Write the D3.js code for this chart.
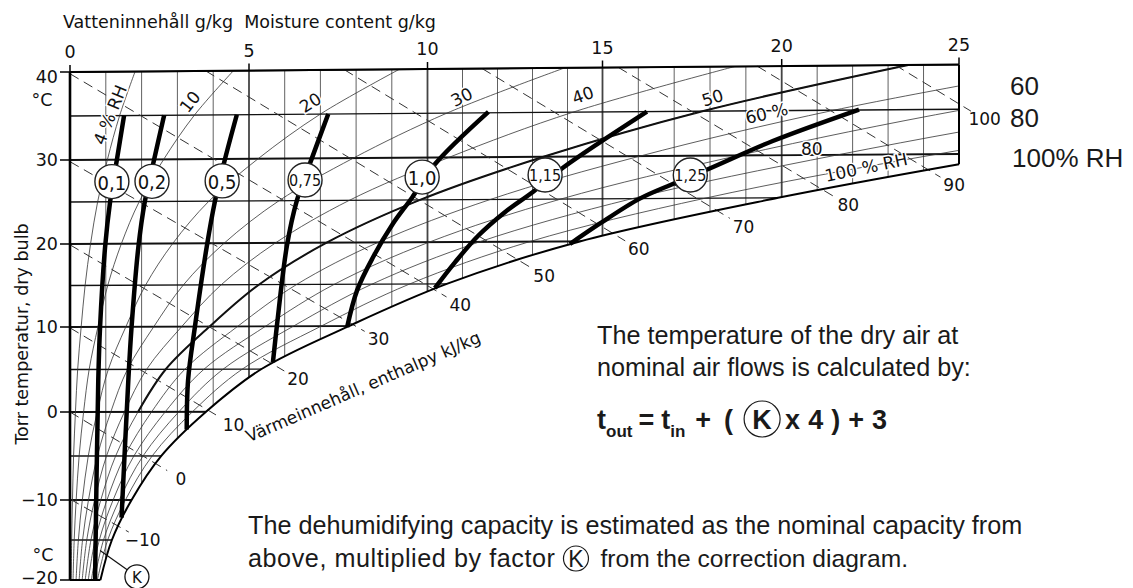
<!DOCTYPE html>
<html><head><meta charset="utf-8">
<script src="https://cdn.jsdelivr.net/npm/d3@7/dist/d3.min.js"></script>
<style>
body{margin:0;background:#fff;}
svg{display:block;}
.ch{font-family:"DejaVu Sans",sans-serif;fill:#111;}
.ov{font-family:"Liberation Sans",Arial,sans-serif;fill:#1a1a1a;}
</style></head><body>
<svg id="c" width="1133" height="588"></svg>
<script>
// ---------- data ----------
const moistureTicks = [0, 5, 10, 15, 20, 25];          // g/kg
const tempTicks = [-20, -10, 0, 10, 20, 30, 40];       // °C
const satTemps =    [-20, -15, -10, -5, 0, 5, 10, 15, 20, 25, 28.8];
const satMoisture = [0.85, 1.17, 1.72, 2.55, 3.8, 5.35, 7.8, 10.55, 14.35, 19.9, 25];

const rhTemps = [-20, -15, -10, -5, 0, 5, 10, 15, 20, 25, 30, 35, 40];
const rhValues = [4, 10, 20, 30, 40, 50, 60, 70, 80, 90];
const rhMoisture = [
  [0.034,0.047,0.069,0.10,0.152,0.214,0.312,0.422,0.574,0.772,1.044,1.386,1.819],
  [0.085,0.117,0.172,0.255,0.38,0.535,0.78,1.055,1.435,1.934,2.617,3.477,4.567],
  [0.17,0.234,0.344,0.51,0.76,1.07,1.56,2.11,2.87,3.88,5.255,6.998,9.213],
  [0.255,0.351,0.516,0.765,1.14,1.605,2.34,3.165,4.305,5.839,7.923,10.552,13.922],
  [0.34,0.468,0.688,1.02,1.52,2.14,3.12,4.22,5.74,7.809,10.608,14.157,18.7],
  [0.425,0.585,0.86,1.275,1.9,2.675,3.9,5.275,7.175,9.791,13.314,17.788,23.57],
  [0.51,0.702,1.032,1.53,2.28,3.21,4.68,6.33,8.61,11.791,16.042,21.477,28.49],
  [0.595,0.819,1.204,1.785,2.66,3.745,5.46,7.385,10.045,13.804,18.792,25.185,33.48],
  [0.68,0.936,1.376,2.04,3.04,4.28,6.24,8.44,11.48,15.824,21.585,28.958,38.53],
  [0.765,1.053,1.548,2.295,3.42,4.815,7.02,9.495,12.915,17.856,24.382,32.743,43.7]
];
const rhLabelText  = ["4 % RH","10","20","30","40","50","60 %","80","100 % RH"];
const rhLabelX     = [1.12, 3.35, 6.72, 10.98, 14.44, 18.07, 19.58, 20.85, 22.38];
const rhLabelT     = [35.1, 36.5, 36.3, 36.8, 36.9, 36.5, 34.7, 30.7, 28.5];
const rhLabelAngle = [-68, -52, -33, -27, -20, -17, -13, 0, -12];

const enthalpyValues = [-10, 0, 10, 20, 30, 40, 50, 60, 70, 80, 90, 100];  // kJ/kg
const enthStartX = [0, 0, 0, 0, 0, 0, 3.79, 7.67, 11.56, 15.44, 19.32, 23.2];
const enthStartT = [-9.9, 0, 9.9, 19.9, 29.8, 39.8, 40, 40, 40, 40, 40, 40];
const enthEndX = [1.30, 2.38, 3.85, 5.65, 7.9, 10.2, 12.6, 15.3, 18.22, 21.15, 24.14, 25];
const enthEndT = [-13.15, -5.84, 0.2, 5.6, 10.2, 14.3, 17.8, 20.9, 23.48, 25.93, 28.16, 35.6];

const kLabels = ["0,1", "0,2", "0,5", "0,75", "1,0", "1,15", "1,25"];
const kLineX = [
  [0.70,0.79,0.84,0.98,1.12,1.31,1.51],
  [1.44,1.63,1.72,1.91,2.09,2.35,2.63],
  [3.26,3.30,3.49,3.82,4.05,4.33,4.66],
  [5.67,5.78,6.06,6.34,6.76,7.22],
  [7.75,8.03,8.47,9.03,9.57,10.21,11.74],
  [10.21,10.79,11.44,12.21,13.01,13.87,16.24],
  [14.07,14.93,16.04,16.96,17.99,19.75,22.18]
];
const kLineT = [
  [-20,3.8,10,19.6,25,30,35],
  [-12.2,3.8,10,19.6,25,30,35],
  [-2,3.8,10,19.6,25,30,35],
  [5.8,10,19.6,25,30,35],
  [9.9,14.3,18.2,22.2,25.3,29.2,35.1],
  [14.5,17.6,20.7,23.5,25.86,28.7,35.0],
  [19.7,22.1,25.0,26.7,28.5,31.6,35.05]
];
const kCircleX = [1.17, 2.29, 4.25, 6.57, 9.85, 13.36, 17.45];
const kCircleT = [27.4, 27.4, 27.4, 27.45, 27.7, 27.86, 27.75];

// ---------- scales ----------
const svg = d3.select("#c");
const xS = d3.scaleLinear().domain(moistureTicks).range([70, 249, 427.5, 602.5, 781.7, 959]);
const yS = d3.scaleLinear().domain(tempTicks).range([580, 500, 412, 327, 244, 160, 72]);
const shear = t => Math.max(0, 0.06 + 0.006 * t);
const P = (x, t) => [xS(x), yS(t) - shear(t) * x];

const straight = d3.line().x(d => P(d[0], d[1])[0]).y(d => P(d[0], d[1])[1]);
const smooth = d3.line().x(d => P(d[0], d[1])[0]).y(d => P(d[0], d[1])[1])
  .curve(d3.curveCatmullRom.alpha(0.5));

const satPts = satTemps.map((t, i) => [satMoisture[i], t]);
const revD = smooth(satPts.slice().reverse());
const clipD = "M" + P(0, -20) + "L" + P(0, 40) + "L" + P(25, 40) + revD.replace(/^M/, "L") + "Z";
svg.append("defs").append("clipPath").attr("id", "area").append("path").attr("d", clipD);

const grid = svg.append("g").attr("clip-path", "url(#area)");

// vertical grid (moisture)
d3.range(0, 26).forEach(m => {
  grid.append("path").attr("d", straight([[m, 40], [m, -20]]))
    .attr("stroke", "#444").attr("stroke-width", m % 5 === 0 ? 1.8 : 0.85).attr("fill", "none");
});
// isotherms
d3.range(-20, 41, 5).forEach(t => {
  grid.append("path").attr("d", straight([[0, t], [25, t]]))
    .attr("stroke", "#111").attr("stroke-width", t % 10 === 0 ? 1.9 : 1.3).attr("fill", "none");
});
// RH curves
rhValues.forEach((rh, i) => {
  const pts = rhTemps.map((t, j) => [rhMoisture[i][j], t]);
  grid.append("path").attr("d", smooth(pts))
    .attr("stroke", "#333").attr("stroke-width", 0.8).attr("fill", "none");
  if (rh === 50) {
    grid.append("path").attr("d", smooth(pts.filter(d => d[1] >= 0)))
      .attr("stroke", "#111").attr("stroke-width", 2).attr("fill", "none");
  }
});

// isenthalps
const enthG = svg.append("g");
enthalpyValues.forEach((h, i) => {
  const a = P(enthStartX[i], enthStartT[i]), b = P(enthEndX[i], enthEndT[i]);
  const dx = b[0] - a[0], dy = b[1] - a[1], L = Math.hypot(dx, dy), ux = dx / L, uy = dy / L;
  enthG.append("line").attr("x1", a[0]).attr("y1", a[1])
    .attr("x2", b[0] + ux * 14).attr("y2", b[1] + uy * 14)
    .attr("stroke", "#333").attr("stroke-width", 1).attr("stroke-dasharray", "10,6");
  enthG.append("text").attr("class", "ch").attr("x", b[0] + ux * 30).attr("y", b[1] + uy * 30)
    .attr("text-anchor", "middle").attr("dominant-baseline", "central")
    .style("font-size", "17px").text(h < 0 ? "\u2212" + Math.abs(h) : h);
});

// borders
const bord = svg.append("g").attr("fill", "none").attr("stroke", "#000");
bord.append("path").attr("d", smooth(satPts)).attr("stroke-width", 2);
bord.append("path").attr("d", straight([[0, -20], [0, 40]])).attr("stroke-width", 2.6);
bord.append("path").attr("d", straight([[0, 40], [25, 40]])).attr("stroke-width", 2);
bord.append("path").attr("d", straight([[25, 40], [25, 28.8]])).attr("stroke-width", 2);
bord.append("path").attr("d", straight([[0, -20], [satMoisture[0], -20]])).attr("stroke-width", 2);

// ticks
moistureTicks.forEach(m => {
  const p = P(m, 40);
  bord.append("line").attr("x1", p[0]).attr("x2", p[0]).attr("y1", p[1]).attr("y2", p[1] - 7).attr("stroke-width", 1.5);
  svg.append("text").attr("class", "ch").attr("x", p[0]).attr("y", p[1] - 14)
    .attr("text-anchor", "middle").style("font-size", "17.5px").text(m);
});
tempTicks.forEach(t => {
  const p = P(0, t);
  bord.append("line").attr("x1", p[0] - 10).attr("x2", p[0]).attr("y1", p[1]).attr("y2", p[1]).attr("stroke-width", 1.5);
  svg.append("text").attr("class", "ch").attr("x", p[0] - 12).attr("y", p[1] + (t === 40 ? 5 : t === -20 ? -2 : 0))
    .attr("text-anchor", "end").attr("dominant-baseline", "central")
    .style("font-size", "17.5px").text(t < 0 ? "\u2212" + Math.abs(t) : t);
});

// K lines
const kG = svg.append("g");
kLineX.forEach((xs, i) => {
  kG.append("path").attr("d", smooth(xs.map((x, j) => [x, kLineT[i][j]])))
    .attr("fill", "none").attr("stroke", "#000").attr("stroke-width", 4.5);
});
kLabels.forEach((lab, i) => {
  const p = P(kCircleX[i], kCircleT[i]);
  kG.append("circle").attr("cx", p[0]).attr("cy", p[1]).attr("r", 17)
    .attr("fill", "#fff").attr("stroke", "#222").attr("stroke-width", 1.4);
  kG.append("text").attr("x", p[0]).attr("y", p[1] + 1).attr("text-anchor", "middle")
    .attr("dominant-baseline", "central")
    .style("font-family", "'Liberation Sans Narrow','DejaVu Sans Condensed',sans-serif")
    .style("font-size", lab.length > 3 ? "16px" : "20px").attr("fill", "#111").text(lab);
});

// RH labels
rhLabelText.forEach((s, i) => {
  const p = P(rhLabelX[i], rhLabelT[i]);
  svg.append("text").attr("class", "ch").attr("x", p[0]).attr("y", p[1])
    .attr("transform", `rotate(${rhLabelAngle[i]},${p[0]},${p[1]})`)
    .attr("text-anchor", "middle").attr("dominant-baseline", "central")
    .style("font-size", "17px").style("paint-order", "stroke")
    .attr("stroke", "#fff").attr("stroke-width", 3).text(s);
});

// axis titles
svg.append("text").attr("class", "ch").attr("x", 63).attr("y", 28)
  .style("font-size", "17.5px").text("Vatteninnehåll g/kg  Moisture content g/kg")
  .attr("xml:space", "preserve").style("white-space", "pre");
svg.append("text").attr("class", "ch").attr("transform", "translate(28,334) rotate(-90)")
  .attr("text-anchor", "middle").style("font-size", "17.5px").text("Torr temperatur, dry bulb");
svg.append("text").attr("class", "ch").attr("x", 42).attr("y", 100).attr("text-anchor", "middle")
  .attr("dominant-baseline", "central").style("font-size", "17.5px").text("°C");
svg.append("text").attr("class", "ch").attr("x", 43).attr("y", 555).attr("text-anchor", "middle")
  .attr("dominant-baseline", "central").style("font-size", "17.5px").text("°C");
{
  const a = P(5.0, -3.5);
  svg.append("text").attr("class", "ch").attr("x", a[0]).attr("y", a[1])
    .attr("transform", `rotate(-23.4,${a[0]},${a[1]})`).style("font-size", "17px")
    .text("Värmeinnehåll, enthalpy kJ/kg");
}

// bottom K marker
{
  const c = P(1.87, -19.6), s = P(0.84, -16.3);
  const dx = c[0] - s[0], dy = c[1] - s[1], L = Math.hypot(dx, dy);
  svg.append("line").attr("x1", s[0]).attr("y1", s[1]).attr("x2", c[0] - dx / L * 12).attr("y2", c[1] - dy / L * 12)
    .attr("stroke", "#111").attr("stroke-width", 1.2);
  svg.append("circle").attr("cx", c[0]).attr("cy", c[1]).attr("r", 12).attr("fill", "#fff")
    .attr("stroke", "#111").attr("stroke-width", 1.3);
  svg.append("text").attr("class", "ch").attr("x", c[0]).attr("y", c[1] + 1).attr("text-anchor", "middle")
    .attr("dominant-baseline", "central").style("font-size", "15px").text("K");
}

// ---------- overlay texts ----------
const ov = svg.append("g").attr("class", "ov");
const put = (x, y, s, size, weight) => ov.append("text").attr("x", x).attr("y", y)
  .style("font-size", size + "px").style("font-weight", weight || "normal").text(s);
put(1010, 95, "60", 26);
put(1010, 127, "80", 26);
put(1012, 167, "100% RH", 26);
put(597, 344, "The temperature of the dry air at", 25.2);
put(597, 376, "nominal air flows is calculated by:", 25.2);

function seq(x, y, parts) {
  let cx = x;
  parts.forEach(p => {
    cx += p.gap || 0;
    if (p.circle) {
      ov.append("circle").attr("cx", cx + p.r).attr("cy", y - p.lift).attr("r", p.r)
        .attr("fill", "none").attr("stroke", "#1a1a1a").attr("stroke-width", 1.2);
      ov.append("text").attr("x", cx + p.r).attr("y", y).attr("text-anchor", "middle")
        .style("font-size", p.size + "px").style("font-weight", p.weight || "normal").text("K");
      cx += 2 * p.r;
    } else {
      const t = ov.append("text").attr("x", cx).attr("y", y + (p.dy || 0))
        .style("font-size", p.size + "px").style("font-weight", p.weight || "normal")
        .style("letter-spacing", (p.ls || 0) + "px").text(p.s);
      cx += t.node().getComputedTextLength();
    }
  });
}
seq(597, 429, [
  {s: "t", size: 27, weight: "bold"},
  {s: "out", size: 17, weight: "bold", dy: 8},
  {s: "=", size: 27, weight: "bold", gap: 6},
  {s: "t", size: 27, weight: "bold", gap: 7},
  {s: "in", size: 17, weight: "bold", dy: 8},
  {s: "+", size: 27, weight: "bold", gap: 10},
  {s: "(", size: 27, weight: "bold", gap: 13},
  {circle: true, r: 18, lift: 10, size: 27, weight: "bold", gap: 11},
  {s: "x", size: 27, weight: "bold", gap: 5},
  {s: "4", size: 27, weight: "bold", gap: 8},
  {s: ")", size: 27, weight: "bold", gap: 8},
  {s: "+", size: 27, weight: "bold", gap: 8},
  {s: "3", size: 27, weight: "bold", gap: 8}
]);
put(248, 534, "The dehumidifying capacity is estimated as the nominal capacity from", 25.2);
seq(248, 567, [
  {s: "above, multiplied by factor", size: 25.2, ls: 0.55},
  {circle: true, r: 12.5, lift: 8.5, size: 23, gap: 8},
  {s: "from the correction diagram.", size: 24.6, gap: 12}
]);
</script>
</body></html>
